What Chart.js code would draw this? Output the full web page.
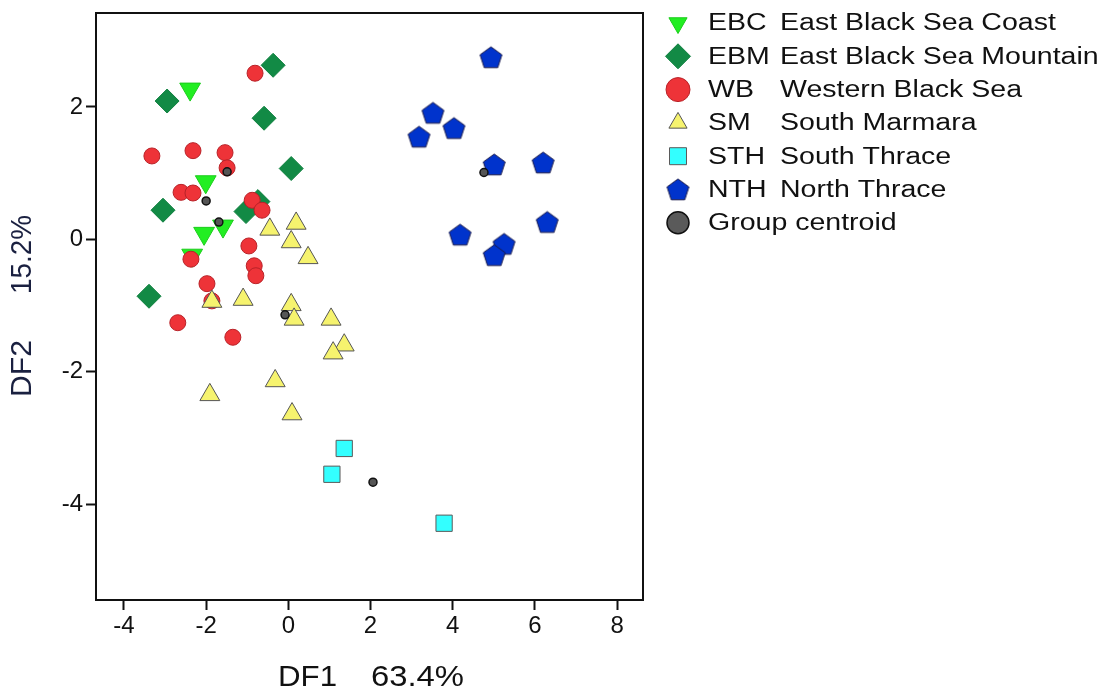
<!DOCTYPE html>
<html>
<head>
<meta charset="utf-8">
<script src="https://cdn.jsdelivr.net/npm/chart.js@4.4.1/dist/chart.umd.min.js"></script>
<style>
  html, body { margin: 0; padding: 0; background: #fff; }
  #wrap { width: 1109px; height: 695px; }
</style>
</head>
<body>
<div id="wrap"><canvas id="dfChart" width="1109" height="695"></canvas></div>
<script>
/* Discriminant function scores, DF1 vs DF2 */

const X_TICKS = [-4, -2, 0, 2, 4, 6, 8];
const Y_TICKS = [-4, -2, 0, 2];

const CODES = ['EBC', 'EBM', 'WB', 'SM', 'STH', 'NTH'];
const NAMES = ['East Black Sea Coast', 'East Black Sea Mountain', 'Western Black Sea',
               'South Marmara', 'South Thrace', 'North Thrace'];

const EBC_X = [-2.39, -2.01, -2.05, -1.59, -2.34];
const EBC_Y = [2.27, 0.87, 0.09, 0.20, -0.24];

const EBM_X = [-0.37, -2.95, -0.59, 0.07, -3.05, -1.03, -0.74, -3.39];
const EBM_Y = [2.63, 2.09, 1.83, 1.07, 0.44, 0.42, 0.57, -0.86];

const WB_X = [-0.81, -3.32, -2.32, -1.54, -1.49, -2.61, -2.32, -0.88, -0.64,
              -0.96, -2.37, -0.83, -0.79, -1.98, -1.86, -2.69, -1.35];
const WB_Y = [2.51, 1.26, 1.34, 1.31, 1.08, 0.71, 0.70, 0.59, 0.44,
              -0.10, -0.30, -0.40, -0.55, -0.67, -0.93, -1.26, -1.48];

const SM_X = [-0.45, 0.19, 0.07, 0.48, -1.86, -1.10, 0.07, 0.14, 1.04, 1.36, 1.09, -0.32, -1.91, 0.09];
const SM_Y = [0.15, 0.24, -0.04, -0.28, -0.94, -0.91, -0.99, -1.21, -1.21, -1.60, -1.72, -2.14, -2.35, -2.64];

const STH_X = [1.36, 1.06, 3.79];
const STH_Y = [-3.16, -3.55, -4.29];

const NTH_X = [4.93, 3.52, 4.03, 3.18, 5.01, 6.20, 6.30, 4.18, 5.25, 5.01];
const NTH_Y = [2.75, 1.91, 1.68, 1.55, 1.13, 1.16, 0.26, 0.07, -0.07, -0.24];

const CEN_X = [-1.49, -2.00, -1.69, -0.08, 2.06, 4.76];
const CEN_Y = [1.02, 0.58, 0.26, -1.14, -3.67, 1.01];

const FONT = "'Liberation Sans', Arial, sans-serif";
const LEGEND_STRETCH = 1.24;   // legend text in the reference is drawn wide

function pts(xs, ys) { return xs.map((x, i) => ({ x, y: ys[i] })); }

function pentagon(r, fill, stroke) {
  const c = document.createElement('canvas');
  const s = Math.ceil(r * 2 + 4);
  c.width = s; c.height = s;
  const g = c.getContext('2d');
  g.beginPath();
  for (let k = 0; k < 5; k++) {
    const a = -Math.PI / 2 + k * 2 * Math.PI / 5;
    const px = s / 2 + r * Math.cos(a), py = s / 2 + 1 + r * Math.sin(a);
    k ? g.lineTo(px, py) : g.moveTo(px, py);
  }
  g.closePath();
  g.fillStyle = fill; g.fill();
  g.lineWidth = 1; g.strokeStyle = stroke; g.stroke();
  return c;
}

const PENT = pentagon(11.5, '#0033CC', '#1a1a4a');

const STYLES = [
  { pointStyle: 'triangle', rotation: 180, radius: 12, bg: '#22EE22', border: '#1CCC1C', lr: 10.5 },
  { pointStyle: 'rectRot', rotation: 0, radius: 12, bg: '#128A45', border: '#10803F', lr: 12.5 },
  { pointStyle: 'circle', rotation: 0, radius: 8, bg: '#EE3338', border: '#B82228', lr: 12 },
  { pointStyle: 'triangle', rotation: 0, radius: 11.5, bg: '#F6F36E', border: '#555555', lr: 10.5 },
  { pointStyle: 'rect', rotation: 0, radius: 11.5, bg: '#33FFFF', border: '#5a5a5a', lr: 12 },
  { pointStyle: PENT, rotation: 0, radius: 11.5, bg: '#0033CC', border: '#1a1a4a', lr: 11.5 }
];

const SERIES = [pts(EBC_X, EBC_Y), pts(EBM_X, EBM_Y), pts(WB_X, WB_Y),
                pts(SM_X, SM_Y), pts(STH_X, STH_Y), pts(NTH_X, NTH_Y)];

const datasets = SERIES.map((data, i) => ({
  label: CODES[i],
  data,
  order: 10 - i,
  pointStyle: STYLES[i].pointStyle,
  rotation: STYLES[i].rotation,
  pointRadius: STYLES[i].radius,
  backgroundColor: STYLES[i].bg,
  borderColor: STYLES[i].border,
  borderWidth: 1
}));
datasets.push({
  label: 'Group centroid',
  data: pts(CEN_X, CEN_Y),
  order: 1,
  pointStyle: 'circle',
  pointRadius: 4,
  backgroundColor: '#555555',
  borderColor: '#111111',
  borderWidth: 1.5
});

// text drawn with a horizontal stretch; if width is given the stretch fits it
function wideText(ctx, text, x, y, size, opts = {}) {
  ctx.save();
  ctx.font = size + 'px ' + FONT;
  const sx = opts.width ? opts.width / ctx.measureText(text).width : (opts.stretch || 1);
  ctx.translate(x, y);
  if (opts.rot) ctx.rotate(opts.rot);
  ctx.scale(sx, 1);
  ctx.fillText(text, 0, 0);
  ctx.restore();
}

const decorPlugin = {
  id: 'decor',
  afterDraw(chart) {
    const { ctx, chartArea: a } = chart;
    ctx.save();
    // frame
    ctx.strokeStyle = '#111';
    ctx.lineWidth = 2;
    ctx.strokeRect(a.left, a.top, a.right - a.left, a.bottom - a.top);

    // axis titles
    ctx.fillStyle = '#111';
    ctx.textBaseline = 'middle';
    ctx.textAlign = 'left';
    wideText(ctx, 'DF1', 278, 678, 30, { width: 59 });
    wideText(ctx, '63.4%', 371, 678, 30, { width: 93 });
    ctx.fillStyle = '#1a2040';
    wideText(ctx, 'DF2', 23, 397, 30, { width: 57, rot: -Math.PI / 2 });
    wideText(ctx, '15.2%', 23, 294, 30, { width: 79, rot: -Math.PI / 2 });

    // legend
    const lx = 678, rowY = 24, step = 33.3;
    for (let i = 0; i < CODES.length; i++) {
      const y = rowY + i * step, st = STYLES[i];
      ctx.fillStyle = st.bg;
      ctx.strokeStyle = st.border;
      ctx.lineWidth = 1;
      Chart.helpers.drawPoint(ctx, { pointStyle: st.pointStyle, rotation: st.rotation, radius: st.lr, borderWidth: 1 }, lx, y - 1);
      ctx.fillStyle = '#111';
      wideText(ctx, CODES[i], 708, y, 23, { stretch: LEGEND_STRETCH });
      wideText(ctx, NAMES[i], 780, y, 23, { stretch: LEGEND_STRETCH });
    }
    const cy = rowY + 6 * step;
    ctx.fillStyle = '#5a5a5a';
    ctx.strokeStyle = '#111';
    ctx.lineWidth = 1.5;
    Chart.helpers.drawPoint(ctx, { pointStyle: 'circle', rotation: 0, radius: 11, borderWidth: 1.5 }, lx, cy - 1);
    ctx.fillStyle = '#111';
    wideText(ctx, 'Group centroid', 708, cy, 23, { stretch: LEGEND_STRETCH });
    ctx.restore();
  }
};

function noPad(s) { s.paddingTop = 0; s.paddingBottom = 0; s.paddingLeft = 0; s.paddingRight = 0; }

new Chart(document.getElementById('dfChart'), {
  type: 'scatter',
  data: { datasets },
  plugins: [decorPlugin],
  options: {
    responsive: false,
    animation: false,
    events: [],
    layout: { padding: { left: 0, right: 466, top: 8, bottom: 0 } },
    plugins: { legend: { display: false }, tooltip: { enabled: false } },
    scales: {
      x: {
        type: 'linear',
        min: -4.68, max: 8.63,
        afterBuildTicks: s => { s.ticks = X_TICKS.map(v => ({ value: v })); },
        afterFit: s => { s.height = 95; noPad(s); },
        grid: { display: true, drawOnChartArea: false, drawTicks: true, tickLength: 10, tickWidth: 2, tickColor: '#111' },
        border: { display: true, color: '#111', width: 2 },
        ticks: { font: { family: FONT, size: 24 }, color: '#111', padding: 2, maxRotation: 0 }
      },
      y: {
        type: 'linear',
        min: -5.45, max: 3.42,
        afterBuildTicks: s => { s.ticks = Y_TICKS.map(v => ({ value: v })); },
        afterFit: s => { s.width = 96; noPad(s); },
        grid: { display: true, drawOnChartArea: false, drawTicks: true, tickLength: 10, tickWidth: 2, tickColor: '#111' },
        border: { display: true, color: '#111', width: 2 },
        ticks: { font: { family: FONT, size: 24 }, color: '#111', padding: 3 }
      }
    }
  }
});
</script>
</body>
</html>
